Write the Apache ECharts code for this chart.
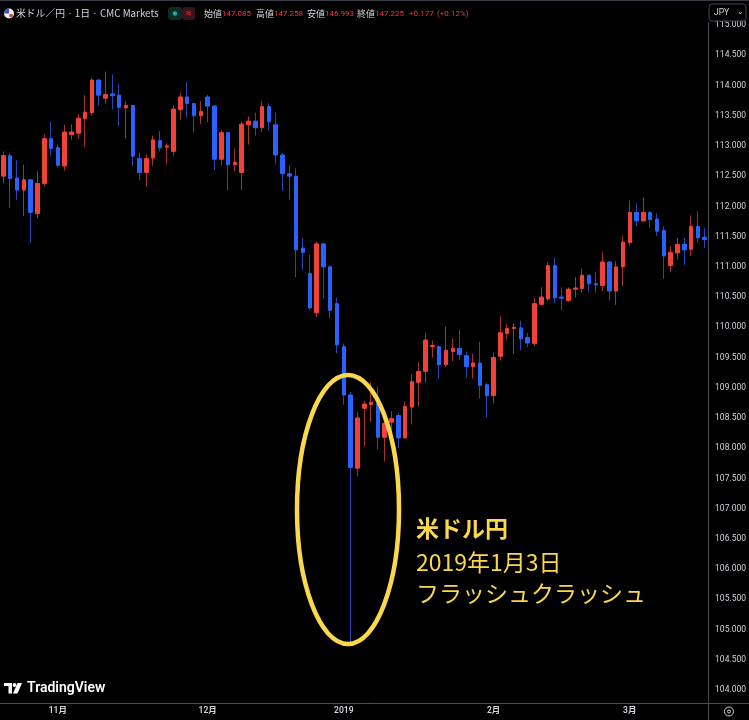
<!DOCTYPE html>
<html><head><meta charset="utf-8">
<script src="https://cdn.jsdelivr.net/npm/echarts@6/dist/echarts.min.js"></script>
<style>html,body{margin:0;padding:0;background:#000}#c{width:749px;height:720px}</style>
</head><body><div id="c"></div>
<script>
// ---- data (USD/JPY daily, CMC Markets) ----
const dates = [
 '2018-10-22','2018-10-23','2018-10-24','2018-10-25','2018-10-26','2018-10-29','2018-10-30','2018-10-31',
 '2018-11-01','2018-11-02','2018-11-05','2018-11-06','2018-11-07','2018-11-08','2018-11-09','2018-11-12',
 '2018-11-13','2018-11-14','2018-11-15','2018-11-16','2018-11-19','2018-11-20','2018-11-21','2018-11-22',
 '2018-11-23','2018-11-26','2018-11-27','2018-11-28','2018-11-29','2018-11-30',
 '2018-12-03','2018-12-04','2018-12-05','2018-12-06','2018-12-07','2018-12-10','2018-12-11','2018-12-12',
 '2018-12-13','2018-12-14','2018-12-17','2018-12-18','2018-12-19','2018-12-20','2018-12-21','2018-12-24',
 '2018-12-26','2018-12-27','2018-12-28','2018-12-31',
 '2019-01-02','2019-01-03','2019-01-04','2019-01-07','2019-01-08','2019-01-09','2019-01-10','2019-01-11',
 '2019-01-14','2019-01-15','2019-01-16','2019-01-17','2019-01-18','2019-01-21','2019-01-22','2019-01-23',
 '2019-01-24','2019-01-25','2019-01-28','2019-01-29','2019-01-30','2019-01-31',
 '2019-02-01','2019-02-04','2019-02-05','2019-02-06','2019-02-07','2019-02-08','2019-02-11','2019-02-12',
 '2019-02-13','2019-02-14','2019-02-15','2019-02-18','2019-02-19','2019-02-20','2019-02-21','2019-02-22',
 '2019-02-25','2019-02-26','2019-02-27','2019-02-28',
 '2019-03-01','2019-03-04','2019-03-05','2019-03-06','2019-03-07','2019-03-08','2019-03-11','2019-03-12',
 '2019-03-13','2019-03-14','2019-03-15','2019-03-18'
];
const open = [
 112.50,112.84,112.47,112.27,112.44,111.88,112.38,113.12,112.97,112.67,
 113.19,113.21,113.45,113.55,114.09,113.79,113.86,113.84,113.63,113.67,
 112.79,112.56,112.80,113.09,112.98,112.91,113.60,113.81,113.70,113.50,
 113.81,113.66,112.78,113.22,112.69,112.56,113.35,113.41,113.30,113.65,
 113.35,112.85,112.54,112.50,111.31,110.89,110.24,111.38,111.00,110.39,
 109.68,108.88,107.67,108.66,108.72,108.74,108.18,108.43,108.54,108.17,
 108.68,109.09,109.27,109.68,109.68,109.38,109.60,109.65,109.53,109.35,
 109.41,109.05,108.87,109.52,109.90,109.98,109.99,109.83,109.73,110.38,
 110.47,111.02,110.50,110.44,110.63,110.64,110.86,110.72,110.69,111.08,
 110.60,111.00,111.40,111.90,111.76,111.90,111.79,111.60,111.02,111.23,
 111.37,111.29,111.67,111.49
];
const high = [
 112.91,112.88,112.77,112.69,112.45,112.58,113.19,113.40,113.02,113.35,
 113.36,113.53,113.84,114.12,114.11,114.23,114.18,114.03,113.74,113.68,
 112.89,112.86,113.17,113.25,113.04,113.67,113.88,114.06,113.71,113.74,
 113.84,113.67,113.26,113.23,112.96,113.40,113.49,113.55,113.74,113.71,
 113.55,112.88,112.68,112.63,111.48,111.20,111.42,111.39,111.03,110.49,
 109.73,108.93,108.60,108.78,109.09,109.02,108.58,108.61,108.58,108.77,
 109.22,109.42,109.91,109.78,109.70,110.01,109.81,109.96,109.60,109.56,
 109.76,109.08,109.58,110.18,110.06,110.07,110.11,109.91,110.48,110.66,
 111.07,111.15,110.66,110.66,110.83,110.97,110.87,110.92,111.25,111.09,
 111.09,111.51,112.10,112.05,112.15,111.92,111.88,111.67,111.34,111.48,
 111.48,111.85,111.92,111.64
];
const low = [
 112.38,111.97,112.11,111.84,111.40,111.80,112.33,112.84,112.65,112.59,
 113.10,113.12,112.98,113.51,113.67,113.70,113.61,113.33,113.12,112.67,
 112.43,112.33,112.67,112.91,112.69,112.83,113.44,113.47,113.22,113.36,
 113.39,112.60,112.68,112.26,112.58,112.27,113.02,113.17,113.23,113.25,
 112.71,112.26,112.11,110.83,110.95,110.29,110.17,110.47,110.15,109.57,
 108.72,104.75,107.53,108.03,108.44,107.98,107.78,108.30,108.00,108.16,
 108.39,108.69,109.08,109.50,109.15,109.34,109.44,109.46,109.17,109.15,
 108.82,108.51,108.74,109.45,109.80,109.56,109.62,109.67,109.69,110.36,
 110.44,110.40,110.28,110.43,110.49,110.57,110.58,110.57,110.60,110.44,
 110.37,110.68,111.35,111.67,111.75,111.65,111.51,110.80,110.91,111.12,
 111.03,111.18,111.40,111.31
];
const close = [
 112.84,112.46,112.27,112.44,111.90,112.38,113.12,112.96,112.68,113.23,
 113.23,113.46,113.56,114.09,113.84,113.85,113.83,113.64,113.67,112.83,
 112.56,112.79,113.10,112.97,113.00,113.61,113.81,113.70,113.50,113.57,
 113.66,112.78,113.22,112.69,112.73,113.36,113.41,113.30,113.65,113.40,
 112.85,112.54,112.50,111.28,111.24,110.32,111.38,111.00,110.28,109.71,
 108.88,107.68,108.50,108.73,108.76,108.18,108.41,108.49,108.17,108.69,
 109.10,109.27,109.79,109.70,109.38,109.62,109.65,109.55,109.35,109.41,
 109.04,108.87,109.50,109.91,109.98,110.00,109.81,109.74,110.39,110.50,
 111.02,110.49,110.48,110.63,110.65,110.86,110.72,110.70,111.08,110.60,
 111.00,111.41,111.90,111.76,111.90,111.78,111.59,111.18,111.24,111.37,
 111.28,111.67,111.48,111.45
];
const yTicks = [104,104.5,105,105.5,106,106.5,107,107.5,108,108.5,109,109.5,110,110.5,111,111.5,112,112.5,113,113.5,114,114.5,115];
const xTickLabels = {'2018-11-01':'11月','2018-12-03':'12月','2019-01-02':'2019','2019-02-01':'2月','2019-03-01':'3月'};

const UP = '#f0413a', DOWN = '#2962ff', UPW = '#a8322a', DOWNW = '#2348b8';
const FONT = 'Roboto, "Noto Sans CJK JP", sans-serif';
const CJK = '"Noto Sans CJK JP", sans-serif';

const wickData = dates.map((d, i) => [open[i], close[i], low[i], high[i]]);
const bodyData = dates.map((d, i) => [open[i], close[i], Math.min(open[i], close[i]), Math.max(open[i], close[i])]);

const chart = echarts.init(document.getElementById('c'), null, {renderer: 'canvas'});
const yellow = '#fbd84b';
const txt = (x, y, s, size, fill, extra) => Object.assign({type:'text', z:100, style: Object.assign({x, y, text:s, fontSize:size, fill, fontFamily: FONT, textVerticalAlign:'middle'}, extra || {})});

chart.setOption({
  backgroundColor: '#000000',
  animation: false,
  grid: {left: -2, right: 40, top: 22, bottom: 17},
  xAxis: {
    type: 'category', data: dates, boundaryGap: true,
    axisLine: {show: false}, axisTick: {show: false}, splitLine: {show: false},
    axisLabel: {
      interval: (i, v) => xTickLabels[v] !== undefined,
      formatter: v => xTickLabels[v] || '',
      color: '#d1d4dc', fontSize: 8.5, fontWeight: 600, margin: 4, fontFamily: FONT
    }
  },
  yAxis: {
    type: 'value', position: 'right', min: 103.785, max: 115.05, scale: true,
    axisLine: {show: false}, axisTick: {show: false}, splitLine: {show: false},
    axisLabel: {
      customValues: yTicks, formatter: v => v.toFixed(3),
      color: '#d1d4dc', fontSize: 8.5, margin: 7, fontFamily: FONT
    }
  },
  series: [
    {type: 'candlestick', data: wickData, barWidth: 1,
     itemStyle: {color: UPW, color0: DOWNW, borderColor: UPW, borderColor0: DOWNW, borderWidth: 1}},
    {type: 'candlestick', data: bodyData, barWidth: 4,
     itemStyle: {color: UP, color0: DOWN, borderColor: UP, borderColor0: DOWN, borderWidth: 1}}
  ],
  graphic: [
    // header cover
    {type:'rect', z:99, shape:{x:0,y:0,width:749,height:21}, style:{fill:'#000'}},
    {type:'line', z:100, shape:{x1:0,y1:0.5,x2:749,y2:0.5}, style:{stroke:'#3a3d45', lineWidth:1}},
    // flag
    {type:'circle', z:100, shape:{cx:9, cy:13.5, r:5}, style:{fill:'#f2f2f2'}},
    {type:'sector', z:101, shape:{cx:9, cy:13.5, r:5, r0:0, startAngle:Math.PI, endAngle:Math.PI*1.5}, style:{fill:'#3b55c4'}},
    {type:'circle', z:101, shape:{cx:11, cy:15.5, r:1.8}, style:{fill:'#e0313c'}},
    txt(16, 13.5, '米ドル／円 · 1日 · CMC Markets', 9.8, '#d1d4dc', {fontFamily: CJK}),
    {type:'rect', z:100, shape:{x:168,y:7,width:14,height:13,r:3}, style:{fill:'#0f2a27'}},
    {type:'circle', z:101, shape:{cx:175, cy:13.5, r:2.3}, style:{fill:'#22ab94'}},
    {type:'rect', z:100, shape:{x:182,y:7,width:13,height:13,r:3}, style:{fill:'#3a141b'}},
    txt(188.5, 13.5, '≈', 10, '#f23645', {textAlign:'center'}),
    txt(204, 13.5, '始値', 9, '#d1d4dc', {fontFamily: CJK}),
    txt(222, 13.5, '147.085', 8, '#f23645'),
    txt(256, 13.5, '高値', 9, '#d1d4dc', {fontFamily: CJK}),
    txt(274, 13.5, '147.258', 8, '#f23645'),
    txt(307, 13.5, '安値', 9, '#d1d4dc', {fontFamily: CJK}),
    txt(325, 13.5, '146.993', 8, '#f23645'),
    txt(357, 13.5, '終値', 9, '#d1d4dc', {fontFamily: CJK}),
    txt(375, 13.5, '147.225', 8, '#f23645'),
    txt(409, 13.5, '+0.177', 8, '#f23645'),
    txt(437, 13.5, '(+0.12%)', 8, '#f23645'),
    // JPY box
    {type:'rect', z:100, shape:{x:709,y:4,width:37,height:17,r:3}, style:{fill:'#000', stroke:'#434651', lineWidth:1}},
    txt(714, 12.5, 'JPY', 8.5, '#d1d4dc'),
    txt(740, 12, '⌄', 8, '#d1d4dc', {textAlign:'center'}),
    // frame lines
    {type:'line', z:100, shape:{x1:708.5,y1:22,x2:708.5,y2:720}, style:{stroke:'#4a4d56', lineWidth:1}},
    {type:'line', z:100, shape:{x1:0,y1:703.5,x2:749,y2:703.5}, style:{stroke:'#4a4d56', lineWidth:1}},
    // bottom-right settings icon
    {type:'circle', z:100, shape:{cx:729, cy:711.5, r:4.5}, style:{fill:'none', stroke:'#d1d4dc', lineWidth:1}},
    {type:'circle', z:100, shape:{cx:729, cy:711.5, r:1.5}, style:{fill:'none', stroke:'#d1d4dc', lineWidth:1}},
    // TradingView logo
    {type:'rect', z:100, shape:{x:4,y:683,width:8,height:3}, style:{fill:'#fff'}},
    {type:'rect', z:100, shape:{x:8.5,y:683,width:3.5,height:10.5}, style:{fill:'#fff'}},
    {type:'circle', z:100, shape:{cx:14.5, cy:685, r:1.9}, style:{fill:'#fff'}},
    {type:'polygon', z:100, shape:{points:[[17.5,683],[22,683],[17.5,693.5],[13,693.5]]}, style:{fill:'#fff'}},
    txt(27, 688.5, 'TradingView', 14, '#ffffff', {fontWeight: 600}),
    // annotation
    {type:'ellipse', z:100, shape:{cx:348, cy:509.5, rx:51, ry:134.5}, style:{fill:'none', stroke: yellow, lineWidth:4.5}},
    txt(416, 528, '米ドル円', 23, yellow, {fontFamily: CJK, fontWeight:'bold'}),
    txt(416, 562, '2019年1月3日', 23, yellow, {fontFamily: CJK}),
    txt(416, 593, 'フラッシュクラッシュ', 23, yellow, {fontFamily: CJK})
  ]
});
</script></body></html>
